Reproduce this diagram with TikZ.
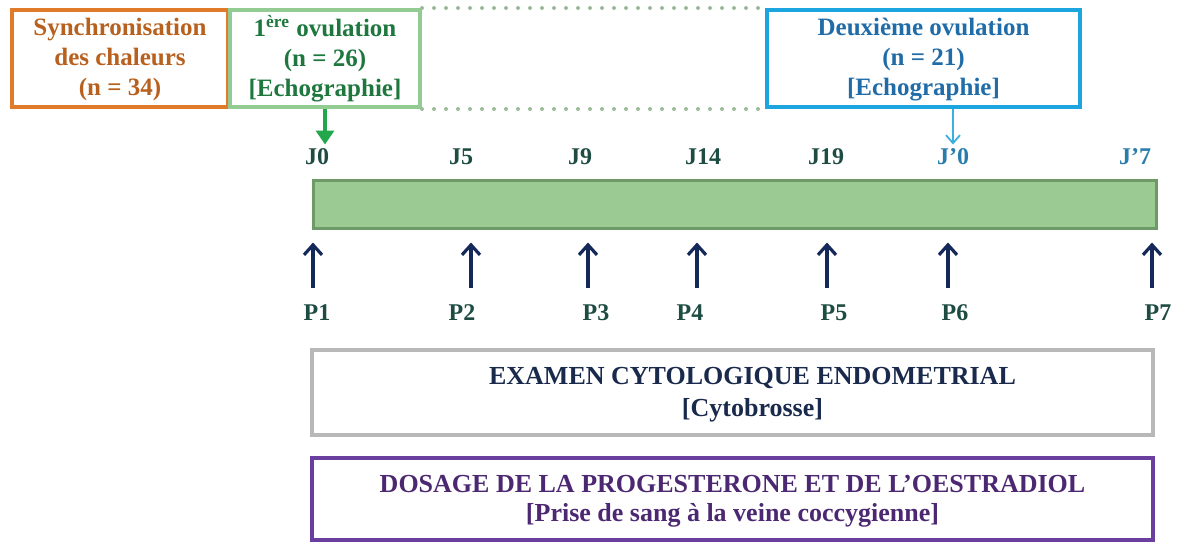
\documentclass[tikz,border=0pt]{standalone}
\usepackage{fontspec}
\setmainfont{Liberation Serif}
\usetikzlibrary{shapes.geometric, arrows, arrows.meta, positioning}

\definecolor{syncline}{RGB}{224,123,44}
\definecolor{synctext}{RGB}{184,96,30}
\definecolor{ovoneline}{RGB}{147,204,147}
\definecolor{ovonetext}{RGB}{30,120,62}
\definecolor{ovtwoline}{RGB}{29,165,223}
\definecolor{ovtwotext}{RGB}{32,108,168}
\definecolor{dotgreen}{RGB}{157,186,154}
\definecolor{arrowgreen}{RGB}{34,168,74}
\definecolor{arrowblue}{RGB}{58,175,224}
\definecolor{barfill}{RGB}{155,203,146}
\definecolor{barline}{RGB}{110,154,104}
\definecolor{daytext}{RGB}{30,76,66}
\definecolor{dayblue}{RGB}{40,125,170}
\definecolor{navy}{RGB}{20,41,90}
\definecolor{examline}{RGB}{184,184,184}
\definecolor{examtext}{RGB}{26,42,76}
\definecolor{doseline}{RGB}{106,63,160}
\definecolor{dosetext}{RGB}{76,40,114}

\tikzset{
  headbox/.style={draw, line width=2pt, align=center, inner sep=0pt, minimum height=48.5pt,
    font=\fontsize{12.5}{15}\selectfont\bfseries},
  daylabel/.style={font=\fontsize{12}{14}\selectfont\bfseries, inner sep=1pt},
  framebox/.style={draw, line width=2pt, minimum width=420.5pt},
  boxtext/.style={align=center, inner sep=0pt, font=\fontsize{13}{16}\selectfont\bfseries},
  dotline/.style={dotgreen, line width=2pt, line cap=round, dash pattern=on 0pt off 6pt},
  uparrow/.style={navy, line width=1.6pt, -{Straight Barb[length=5pt, width=9pt]}, shorten >=6.5pt}
}

\begin{document}
\begin{tikzpicture}[x=0.5pt, y=-0.5pt]
  \useasboundingbox (0,0) rectangle (1180,542);

  % top boxes
  \node[headbox, draw=syncline, text=synctext, minimum width=108pt] (sync) at (120,58.5)
    {\rule{0pt}{10pt}Synchronisation\\des chaleurs\\(n = 34)};
  \node[headbox, draw=ovoneline, text=ovonetext, minimum width=95pt] (ovone) at (325,58.5)
    {\rule{0pt}{10pt}1\textsuperscript{ère} ovulation\\(n = 26)\\{[}Echographie{]}};
  \node[headbox, draw=ovtwoline, text=ovtwotext, minimum width=156.5pt] (ovtwo) at (923.5,58.5)
    {\rule{0pt}{10pt}Deuxième ovulation\\(n = 21)\\{[}Echographie{]}};
  \draw[dotline] (ovone.north east) -- (ovtwo.north west);
  \draw[dotline] (ovone.south east) -- (ovtwo.south west);

  % days
  \foreach \x/\n/\t/\c in {317/j0/J0/daytext, 461/j5/J5/daytext, 580/j9/J9/daytext,
      703/j14/J14/daytext, 826/j19/J19/daytext, 953/jp0/J’0/dayblue, 1135/jp7/J’7/dayblue}
    \node[daylabel, text=\c] (\n) at (\x,157) {\t};

  \draw[arrowgreen, line width=2pt, -{Triangle[width=9pt, length=7pt]}, shorten >=1pt]
    (ovone.south) -- (ovone.south |- j0.north);
  \draw[arrowblue, line width=0.9pt, -{Straight Barb[length=4pt, width=7pt]}, shorten >=1pt]
    (ovtwo.south -| jp0) -- (jp0.north);

  % cycle bar
  \node[draw=barline, fill=barfill, line width=1.5pt, minimum width=421.5pt, minimum height=24pt] (bar)
    at (734.5,204) {};

  % samplings
  \foreach \i/\px/\ax in {1/317/313, 2/462/471, 3/596/588, 4/690/697, 5/834/827, 6/955/948, 7/1158/1152} {
    \node[daylabel, text=daytext] (p\i) at (\px,313) {P\i};
    \coordinate (a\i) at (\ax,288);
    \draw[uparrow] (a\i) -- (a\i |- bar.south);
  }

  % exams
  \node[framebox, draw=examline, minimum height=42.5pt] (exam) at (732.5,392.5) {};
  \node[boxtext, text=examtext] (examlbl) at ([xshift=10pt, yshift=-1pt]exam.center)
    {EXAMEN CYTOLOGIQUE ENDOMETRIAL\\{[}Cytobrosse{]}};
  \node[framebox, draw=doseline, minimum height=41pt] (dose) at (732.5,499) {};
  \node[boxtext, text=dosetext, font=\fontsize{13}{14.5}\selectfont\bfseries] (doselbl) at ([yshift=-1pt]dose.center)
    {DOSAGE DE LA PROGESTERONE ET DE L’OESTRADIOL\\{[}Prise de sang à la veine coccygienne{]}};
\end{tikzpicture}
\end{document}
